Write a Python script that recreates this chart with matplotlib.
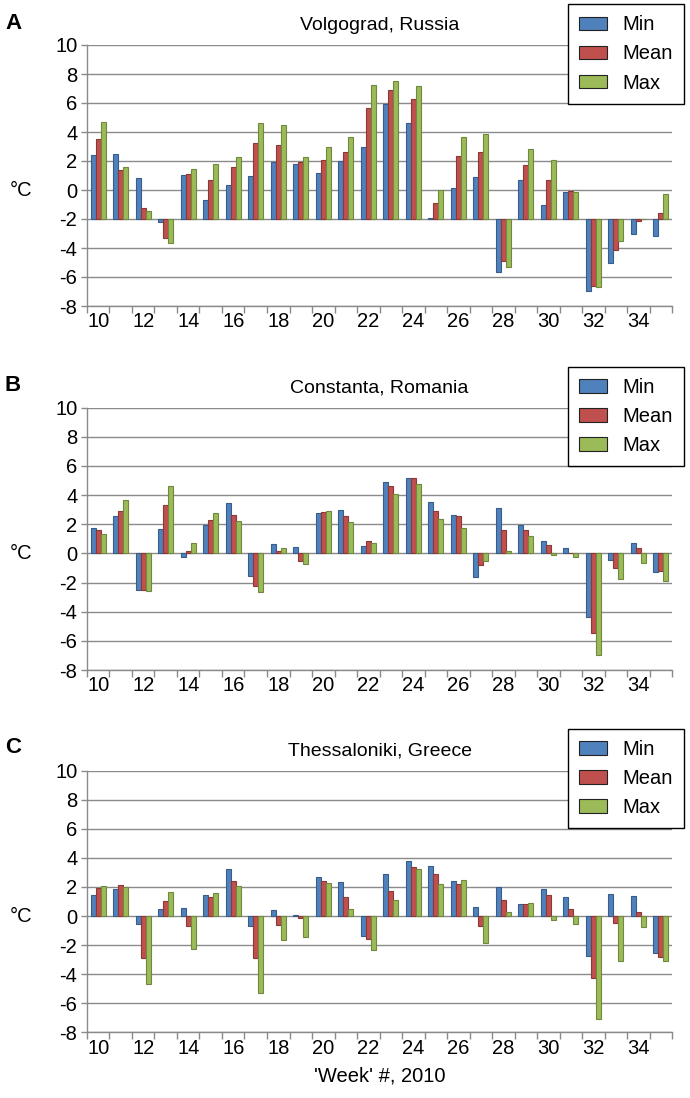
import numpy as np
import matplotlib
matplotlib.use("Agg")
import matplotlib.pyplot as plt
from matplotlib.ticker import FixedLocator

plt.rcParams['font.family'] = ['Liberation Sans', 'DejaVu Sans']

weeks = list(range(10, 36))

volgograd_min = [2.41, 2.46, 0.80, -2.23, 1.03, -0.71, 0.34, 0.97, 1.95, 1.77, 1.15, 2.00,
                 2.97, 5.93, 4.62, -1.95, 0.14, 0.92, -5.63, 0.67, -1.06, -0.16, -6.94, -5.01, -3.03, -3.17]
volgograd_mean = [3.54, 1.36, -1.26, -3.29, 1.08, 0.71, 1.59, 3.24, 3.10, 1.91, 2.07, 2.62,
                  5.68, 6.92, 6.30, -0.90, 2.34, 2.60, -4.92, 1.72, 0.67, -0.09, -6.60, -4.16, -2.11, -1.59]
volgograd_max = [4.69, 1.59, -1.45, -3.66, 1.43, 1.77, 2.25, 4.60, 4.46, 2.28, 2.99, 3.66,
                 7.26, 7.49, 7.17, 0.02, 3.68, 3.84, -5.29, 2.80, 2.05, -0.11, -6.67, -3.49, -2.03, -0.30]

constanta_min = [1.72, 2.56, -2.49, 1.65, -0.23, 1.94, 3.43, -1.53, 0.66, 0.43, 2.74, 2.95,
                 0.50, 4.87, 5.21, 3.52, 2.65, -1.60, 3.09, 1.94, 0.87, 0.37, -4.37, -0.43, 0.69, -1.26]
constanta_mean = [1.58, 2.90, -2.54, 3.32, 0.16, 2.26, 2.61, -2.22, 0.14, -0.50, 2.86, 2.54,
                  0.82, 4.60, 5.21, 2.88, 2.56, -0.82, 1.58, 1.62, 0.55, 0.05, -5.44, -0.98, 0.39, -1.21]
constanta_max = [1.30, 3.64, -2.56, 4.62, 0.69, 2.79, 2.20, -2.63, 0.34, -0.75, 2.90, 2.13,
                 0.69, 4.05, 4.76, 2.36, 1.72, -0.53, 0.14, 1.21, -0.14, -0.23, -6.98, -1.78, -0.69, -1.88]

thess_min = [1.42, 1.83, -0.57, 0.48, 0.57, 1.47, 3.26, -0.66, 0.44, 0.09, 2.68, 2.36,
             -1.38, 2.87, 3.78, 3.44, 2.43, 0.60, 2.02, 0.80, 1.83, 1.33, -2.77, 1.49, 1.35, -2.52]
thess_mean = [1.95, 2.11, -2.89, 1.03, -0.69, 1.31, 2.43, -2.87, -0.62, -0.14, 2.38, 1.28,
              -1.58, 1.74, 3.39, 2.87, 2.22, -0.69, 1.10, 0.80, 1.47, 0.48, -4.29, -0.48, 0.25, -2.82]
thess_max = [2.06, 1.99, -4.70, 1.65, -2.25, 1.56, 2.09, -5.30, -1.65, -1.44, 2.27, 0.46,
             -2.34, 1.10, 3.23, 2.20, 2.45, -1.88, 0.28, 0.92, -0.28, -0.53, -7.06, -3.10, -0.76, -3.07]

series_names = ["Min", "Mean", "Max"]
face_colors = ["#4F81BD", "#C0504D", "#9BBB59"]
edge_colors = ["#385D8A", "#8C3836", "#71893F"]

panels = [
    ("A", "Volgograd, Russia", [volgograd_min, volgograd_mean, volgograd_max], -2.0),
    ("B", "Constanta, Romania", [constanta_min, constanta_mean, constanta_max], 0.0),
    ("C", "Thessaloniki, Greece", [thess_min, thess_mean, thess_max], 0.0),
]

W, H = 690, 1098
fig = plt.figure(figsize=(W / 100, H / 100), dpi=100)

ax_left, ax_right = 87, 672
tops = [45, 407.7, 770.7]
bottoms = [306, 670, 1032.3]
legend_tops = [4.3, 367, 729]
label_y = [29, 391, 753]

grid_color = "#8A8A8A"
bw = 0.227
x = np.array(weeks, dtype=float)
fs = 14.5

for i, (letter, title, data, base) in enumerate(panels):
    top, bot = tops[i], bottoms[i]
    ax = fig.add_axes([ax_left / W, 1 - bot / H, (ax_right - ax_left) / W, (bot - top) / H])
    for j, vals in enumerate(data):
        v = np.array(vals)
        ax.bar(x + (j - 1) * bw, v - base, bottom=base, width=bw,
               color=face_colors[j], edgecolor=edge_colors[j], linewidth=0.8,
               label=series_names[j], zorder=3)
    ax.set_xlim(9.5, 35.5)
    ax.set_ylim(-8, 10)
    ax.set_yticks(range(-8, 11, 2))
    ax.set_yticklabels([str(t) for t in range(-8, 11, 2)])
    ax.yaxis.grid(True, color=grid_color, linewidth=1.0, zorder=0)
    ax.set_axisbelow(True)
    ax.set_xticks(list(range(10, 36, 2)))
    ax.set_xticklabels([str(t) for t in range(10, 36, 2)])
    ax.xaxis.set_minor_locator(FixedLocator(np.arange(9.5, 36, 1.0)))
    ax.tick_params(axis='x', which='major', length=0, pad=4.5, labelsize=fs)
    ax.tick_params(axis='x', which='minor', length=5, width=1, color=grid_color, direction='out')
    ax.tick_params(axis='y', which='major', length=4, width=1, color=grid_color, pad=3, labelsize=fs)
    for s in ['top', 'right']:
        ax.spines[s].set_visible(False)
    for s in ['left', 'bottom']:
        ax.spines[s].set_color(grid_color)
        ax.spines[s].set_linewidth(1.0)
    ax.set_title(title, fontsize=14, pad=11)
    ax.set_ylabel("°C", rotation=0, fontsize=fs, va='center', ha='center')
    ax.yaxis.set_label_coords((21 - ax_left) / (ax_right - ax_left), 8 / 18)
    fig.text(5 / W, 1 - label_y[i] / H, letter, fontsize=16, fontweight='bold',
             ha='left', va='baseline')
    leg = ax.legend(loc='upper left', bbox_to_anchor=(567.7 / W, 1 - legend_tops[i] / H),
                    bbox_transform=fig.transFigure, borderaxespad=0, fontsize=fs,
                    frameon=True, fancybox=False, edgecolor='black', framealpha=1,
                    handlelength=1.4, handleheight=0.65, handletextpad=0.75,
                    labelspacing=0.5, borderpad=0.55)
    leg.get_frame().set_linewidth(1.0)
    leg.set_zorder(10)
    for h in leg.legend_handles:
        h.set_edgecolor('#222222')

fig.text((ax_left + ax_right) / 2 / W, 1 - 1082 / H, "'Week' #, 2010", fontsize=fs,
         ha='center', va='baseline')

fig.savefig("out.png", dpi=100)
